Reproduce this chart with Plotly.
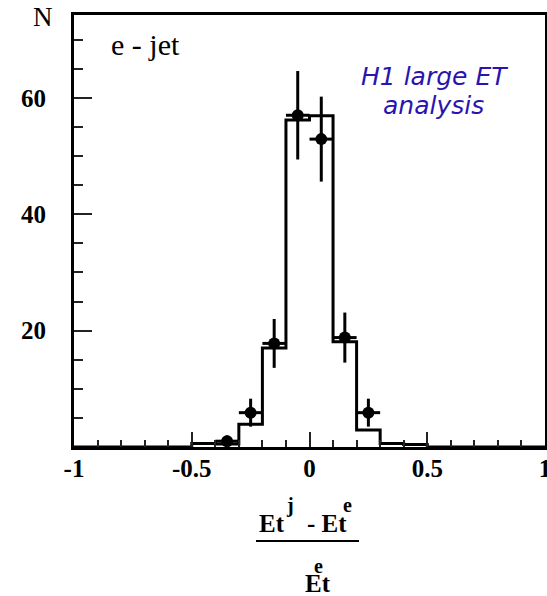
import plotly.graph_objects as go

# ---- data ----
bin_edges = [-1.0, -0.9, -0.8, -0.7, -0.6, -0.5, -0.4, -0.3, -0.2, -0.1, 0.0,
             0.1, 0.2, 0.3, 0.4, 0.5, 0.6, 0.7, 0.8, 0.9, 1.0]
mc_counts = [0, 0, 0, 0, 0, 0.6, 0.5, 3.9, 17.0, 56.2, 56.9, 18.1, 2.9, 0.6, 0.45,
             0, 0, 0, 0, 0]

data_x = [-0.35, -0.25, -0.15, -0.05, 0.05, 0.15, 0.25]
data_y = [1.0, 5.9, 17.8, 57.0, 52.9, 18.8, 5.9]
data_err = [1.0, 2.4, 4.2, 7.6, 7.3, 4.3, 2.4]
data_xerr = [0.05, 0.05, 0.05, 0.05, 0.05, 0.05, 0.05]

x_tickvals = [-1, -0.5, 0, 0.5, 1]
x_ticktext = ["-1", "-0.5", "0", "0.5", "1"]
y_tickvals = [20, 40, 60]
y_ticktext = ["20", "40", "60"]

# ---- geometry ----
W, H = 547, 596
L, R, T, B = 74, 2, 15, 149
PW, PH = W - L - R, H - T - B


def px(x):
    return (x - L) / PW


def py(y):
    return (H - B - y) / PH


fig = go.Figure()

hist_x = bin_edges
hist_y = mc_counts + [mc_counts[-1]]
fig.add_trace(go.Scatter(x=hist_x, y=hist_y, mode="lines",
                         line=dict(shape="hv", color="black", width=3),
                         showlegend=False, hoverinfo="skip"))

fig.add_trace(go.Scatter(x=data_x, y=data_y, mode="markers",
                         marker=dict(color="black", size=12, symbol="circle"),
                         error_y=dict(type="data", array=data_err, visible=True,
                                      color="black", thickness=3, width=0),
                         error_x=dict(type="data", array=data_xerr, visible=True,
                                      color="black", thickness=3, width=0),
                         showlegend=False))

serif = "Liberation Serif, Times New Roman, serif"
axis_common = dict(showline=True, linecolor="black", linewidth=3, mirror=True,
                   showgrid=False, zeroline=False, automargin=False,
                   ticks="inside", tickcolor="#222", tickwidth=1.5,
                   tickfont=dict(family=serif, size=25, color="black", weight="bold"))

fig.update_xaxes(range=[-1, 1], tickmode="array", tickvals=x_tickvals,
                 ticktext=x_ticktext, ticklen=15, ticklabelstandoff=-3,
                 ticklabeloverflow="allow",
                 minor=dict(ticks="inside", ticklen=7, tickmode="linear",
                            tick0=-1, dtick=0.1, tickcolor="#222", tickwidth=1.5),
                 **axis_common)
fig.update_yaxes(range=[0, PH / 5.82], tickmode="array", tickvals=y_tickvals,
                 ticktext=y_ticktext, ticklen=18, ticklabelstandoff=20,
                 minor=dict(ticks="inside", ticklen=9, tickmode="linear",
                            tick0=0, dtick=5, tickcolor="#222", tickwidth=1.5),
                 **axis_common)

ann = []


def txt(t, x, y, size, bold=False, family=serif, color="black", italic=False):
    ann.append(dict(text=t, x=px(x), y=py(y), xref="paper", yref="paper",
                    xanchor="center", yanchor="middle", showarrow=False,
                    font=dict(family=family, size=size, color=color,
                              weight="bold" if bold else "normal",
                              style="italic" if italic else "normal")))


txt("N", 42.5, 17, 27)
txt("e - jet", 145, 45, 30)
comic = "Comic Sans MS, DejaVu Sans, sans-serif"
txt("H1 large ET", 434, 77, 25, family=comic, color="#2a14b0", italic=True)
txt("analysis", 433, 105, 25, family=comic, color="#2a14b0", italic=True)

# x-axis title as a fraction
txt("Et", 272, 523, 25, bold=True)
txt("j", 290, 505, 20, bold=True)
txt("- Et", 327, 523, 25, bold=True)
txt("e", 347, 505, 20, bold=True)
txt("Et", 318, 583, 25, bold=True)
txt("e", 318, 566, 20, bold=True)

shapes = [dict(type="line", xref="paper", yref="paper",
               x0=px(256), x1=px(359), y0=py(541), y1=py(541),
               line=dict(color="black", width=2))]

fig.update_layout(width=W, height=H, margin=dict(l=L, r=R, t=T, b=B),
                  plot_bgcolor="white", paper_bgcolor="white",
                  annotations=ann, shapes=shapes, showlegend=False)

fig.write_html("out.html")
